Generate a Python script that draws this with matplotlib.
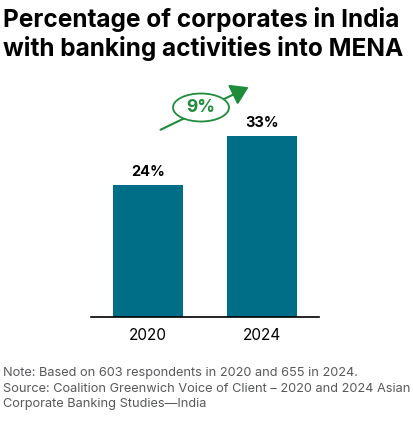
import matplotlib
matplotlib.use("Agg")
import matplotlib.pyplot as plt
from matplotlib.patches import Ellipse, FancyArrowPatch

plt.rcParams['font.family'] = ['Inter', 'DejaVu Sans']

categories = ["2020", "2024"]
values = [24, 33]
value_labels = ["24%", "33%"]
change_label = "9%"
title = "Percentage of corporates in India\nwith banking activities into MENA"
notes = ["Note: Based on 603 respondents in 2020 and 655 in 2024.",
         "Source: Coalition Greenwich Voice of Client – 2020 and 2024 Asian",
         "Corporate Banking Studies—India"]

W, H = 413, 424
fig = plt.figure(figsize=(W/100, H/100), dpi=100)

def fx(px): return px / W
def fy(py): return 1 - py / H

left, right, bottom, top = 91, 319, 317, 97
ax = fig.add_axes([fx(left), fy(bottom), (right-left)/W, (bottom-top)/H])
x = list(range(len(categories)))
bars = ax.bar(x, values, width=0.617, color="#006E87")
ax.set_xlim(-0.5, 1.5)
ax.set_ylim(0, 40)
ax.set_yticks([])
for s in ["top", "right", "left"]:
    ax.spines[s].set_visible(False)
ax.spines["bottom"].set_linewidth(1.2)
ax.set_xticks(x)
ax.set_xticklabels(categories, fontsize=11)
ax.tick_params(axis="x", length=0, pad=8)
for xi, v, lab in zip(x, values, value_labels):
    ax.text(xi, v + 1.0, lab, ha="center", va="bottom", fontsize=10.5, fontweight="bold")

green = "#1E8C3A"
arrow = FancyArrowPatch((fx(158), fy(131)), (fx(251), fy(86)), transform=fig.transFigure,
                        arrowstyle="-|>,head_length=7,head_width=4.5", color=green, lw=1.5,
                        mutation_scale=1.5)
fig.patches.append(arrow)
ell = Ellipse((fx(201), fy(107.5)), 56/W, 28/H, transform=fig.transFigure,
              facecolor="white", edgecolor=green, lw=1.3, zorder=3)
fig.patches.append(ell)
fig.text(fx(201), fy(108), change_label, ha="center", va="center", color=green,
         fontsize=12.5, fontweight="bold", zorder=4)

fig.text(fx(3), fy(7), title, ha="left", va="top", fontsize=17.6, fontweight="bold",
         linespacing=1.18)
for i, line in enumerate(notes):
    fig.text(fx(3), fy(373 + i*15.5), line, ha="left", va="center", fontsize=9.2, color="#58595B")

fig.savefig("out.png", dpi=100)
